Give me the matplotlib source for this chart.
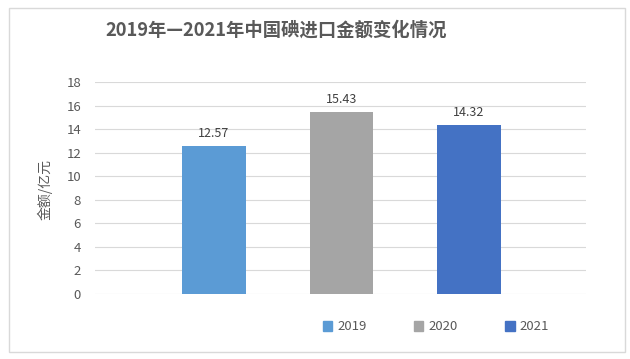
import matplotlib
matplotlib.use("Agg")
import matplotlib.pyplot as plt
from matplotlib.patches import Rectangle
import numpy as np

plt.rcParams['font.family'] = ['Noto Sans CJK SC', 'DejaVu Sans']

# data
years = ['2019', '2020', '2021']
amounts = [12.57, 15.43, 14.32]
colors = ['#5B9BD5', '#A5A5A5', '#4472C4']

text_gray = '#595959'
grid_gray = '#D9D9D9'

fig = plt.figure(figsize=(6.3, 3.59), dpi=100)
ax = fig.add_axes([95 / 630, 1 - 294 / 359, 491 / 630, 212 / 359])

idx = np.arange(len(years))
bars = ax.bar(idx, amounts, width=0.5, color=colors, zorder=3, label=years)

for b, v in zip(bars, amounts):
    ax.text(b.get_x() + b.get_width() / 2, v + 0.5, '%.2f' % v,
            ha='center', va='bottom', fontsize=9, color='#404040')

ax.set_xlim(-0.933, 2.918)
ax.set_ylim(0, 18)
ax.set_yticks(range(0, 19, 2))
ax.yaxis.grid(True, color=grid_gray, lw=0.8, zorder=0)
ax.set_xticks([])
for s in ax.spines.values():
    s.set_visible(False)
ax.tick_params(axis='y', length=0, labelsize=9.5, labelcolor=text_gray, pad=10)

fig.text(45 / 630, 1 - 190 / 359, '金额/亿元', rotation=90, ha='center', va='center',
         fontsize=10, color=text_gray)

fig.text(276 / 630, 1 - 30 / 359, '2019年—2021年中国碘进口金额变化情况', ha='center', va='center',
         fontsize=13.2, fontweight='bold', color=text_gray)

handles = [Rectangle((0, 0), 1, 1, color=c) for c in colors]
fig.legend(handles, years, loc='center', bbox_to_anchor=(436 / 630, 1 - 327 / 359), ncol=3,
           frameon=False, fontsize=9.5, labelcolor=text_gray, handlelength=0.7, handleheight=0.7,
           handletextpad=0.4, columnspacing=3.6)

# outer chart border
fig.patches.append(Rectangle((9 / 630, 1 - 352 / 359), 616 / 630, 344 / 359,
                             transform=fig.transFigure, fill=False, edgecolor='#D9D9D9', lw=1))

fig.savefig('out.png', dpi=100)
